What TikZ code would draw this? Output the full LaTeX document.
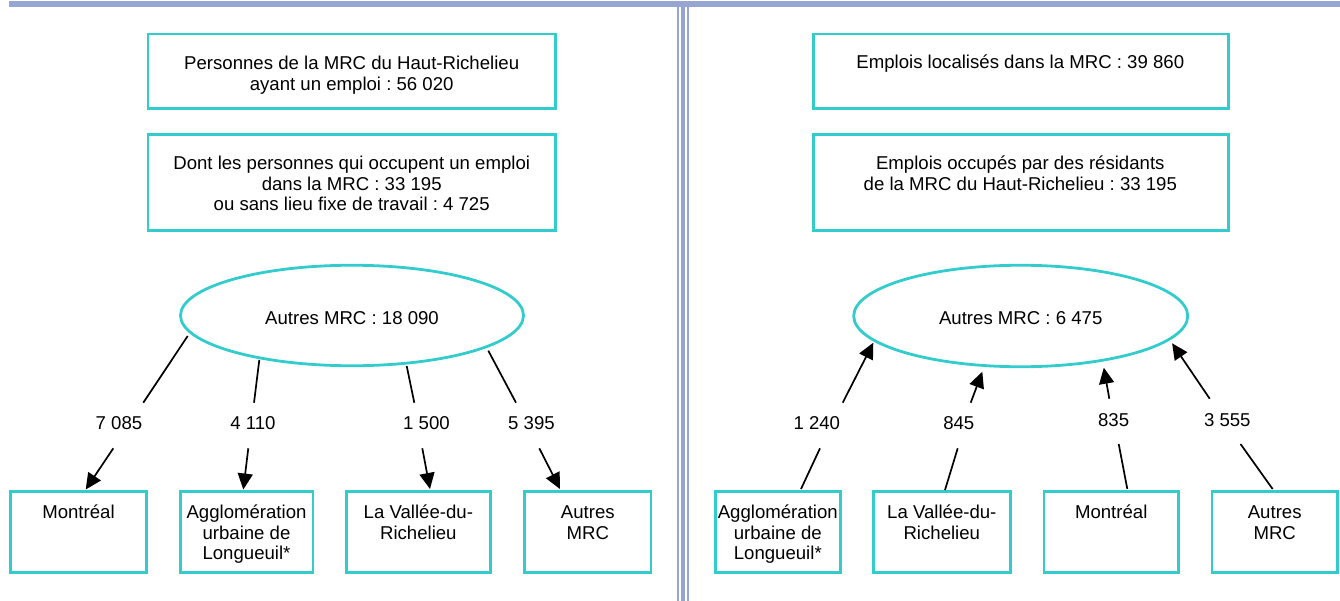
\documentclass[tikz,border=0pt]{standalone}
\usepackage{fontspec}
\setmainfont{Liberation Sans}
\usetikzlibrary{arrows.meta,shapes.geometric}
\definecolor{turq}{RGB}{51,204,204}
\definecolor{lav}{RGB}{150,165,210}
\frenchspacing
\begin{document}
\begin{tikzpicture}[x=1bp,y=-1bp,
  box/.style={draw=turq, line width=2.8bp, inner sep=0pt},
  ell/.style={ellipse, draw=turq, line width=2.8bp, inner sep=0pt,
    font=\fontsize{18.6bp}{20.7bp}\selectfont, text height=20bp, text depth=2.2bp},
  txt/.style={font=\fontsize{18.6bp}{20.7bp}\selectfont, align=center, inner sep=0pt},
  conn/.style={line width=1.7bp, draw=black},
  arr/.style={conn, -{Triangle[length=16bp,width=15bp]}}]
\useasboundingbox (0,0) rectangle (1340,601);
% frame bars
\fill[lav] (9,0.7) rectangle (1340,6.7);
\fill[lav] (676.7,6.7) rectangle (679,601);
\fill[lav] (681,6.7) rectangle (685,601);
\fill[lav] (686.7,6.7) rectangle (689,601);

% ===== left side =====
\node[box, minimum width=407.3bp, minimum height=74.6bp] (L1) at (351.7,71.35) {};
\node[txt, anchor=north] (L1t) at (351.7,54.8) {\strut Personnes de la MRC du Haut-Richelieu\\\strut ayant un emploi : 56 020};
\node[box, minimum width=407.3bp, minimum height=96.3bp] (L2) at (351.7,182.5) {};
\node[txt, anchor=north] (L2t) at (351.7,154.8) {\strut Dont les personnes qui occupent un emploi\\\strut dans la MRC : 33 195\\\strut ou sans lieu fixe de travail : 4 725};
\node[ell, minimum width=343bp, minimum height=100.5bp] (LE) at (352,315.5) {Autres MRC : 18 090};

\node[box, minimum width=136bp, minimum height=81bp] (LB1) at (78.35,531.85) {};
\node[txt, anchor=north] (LB1t) at (78.5,503.8) {\strut Montréal};
\node[box, minimum width=132.6bp, minimum height=81bp] (LB2) at (246.65,531.85) {};
\node[txt, anchor=north] (LB2t) at (246.5,503.8) {\strut Agglomération\\\strut urbaine de\\\strut Longueuil*};
\node[box, minimum width=144bp, minimum height=81bp] (LB3) at (418.35,531.85) {};
\node[txt, anchor=north] (LB3t) at (418.35,503.8) {\strut La Vallée-du-\\\strut Richelieu};
\node[box, minimum width=126.3bp, minimum height=81bp] (LB4) at (587.8,531.85) {};
\node[txt, anchor=north] (LB4t) at (587.8,503.8) {\strut Autres\\\strut MRC};

\node[txt] (Ln1) at (119,425.5) {\strut 7 085};
\node[txt] (Ln2) at (253,425.5) {\strut 4 110};
\node[txt] (Ln3) at (426.5,425.5) {\strut 1 500};
\node[txt] (Ln4) at (531.5,425.5) {\strut 5 395};

\coordinate (la1) at (187.7,336);   \coordinate (lb1) at (143.3,402.7);
\coordinate (lc1) at (113.3,448.3); \coordinate (ld1) at (85.7,489.5);
\coordinate (la2) at (259.3,360);   \coordinate (lb2) at (254,402.7);
\coordinate (lc2) at (248.3,448.3); \coordinate (ld2) at (243.3,489.5);
\coordinate (la3) at (406.7,366);   \coordinate (lb3) at (414.3,402.7);
\coordinate (lc3) at (422.3,448.3); \coordinate (ld3) at (430,489);
\coordinate (la4) at (488.3,350.7); \coordinate (lb4) at (516,402.7);
\coordinate (lc4) at (539.3,448.3); \coordinate (ld4) at (560,489);
\foreach \i in {1,2,3,4}{
  \draw[conn] (la\i) -- (lb\i);
  \draw[arr] (lc\i) -- (ld\i);
}

% ===== right side =====
\node[box, minimum width=415.5bp, minimum height=74.6bp] (R1) at (1020.85,71.35) {};
\node[txt, anchor=north] (R1t) at (1020.3,53.8) {\strut Emplois localisés dans la MRC : 39 860};
\node[box, minimum width=415.5bp, minimum height=96.3bp] (R2) at (1020.85,182.5) {};
\node[txt, anchor=north] (R2t) at (1020.3,154.8) {\strut Emplois occupés par des résidants\\\strut de la MRC du Haut-Richelieu : 33 195};
\node[ell, minimum width=334bp, minimum height=101.5bp] (RE) at (1020.7,316) {Autres MRC : 6 475};

\node[box, minimum width=125bp, minimum height=81bp] (RB1) at (777.85,531.85) {};
\node[txt, anchor=north] (RB1t) at (777.8,503.8) {\strut Agglomération\\\strut urbaine de\\\strut Longueuil*};
\node[box, minimum width=137.4bp, minimum height=81bp] (RB2) at (941.8,531.85) {};
\node[txt, anchor=north] (RB2t) at (941.8,503.8) {\strut La Vallée-du-\\\strut Richelieu};
\node[box, minimum width=134.4bp, minimum height=81bp] (RB3) at (1111.2,531.85) {};
\node[txt, anchor=north] (RB3t) at (1111.2,503.8) {\strut Montréal};
\node[box, minimum width=125.4bp, minimum height=81bp] (RB4) at (1274.7,531.85) {};
\node[txt, anchor=north] (RB4t) at (1274.7,503.8) {\strut Autres\\\strut MRC};

\node[txt] (Rn1) at (816.8,425.8) {\strut 1 240};
\node[txt] (Rn2) at (958.8,425.8) {\strut 845};
\node[txt] (Rn3) at (1113.6,422.5) {\strut 835};
\node[txt] (Rn4) at (1227.3,422.5) {\strut 3 555};

\coordinate (ra1) at (801,489);     \coordinate (rb1) at (820,448.3);
\coordinate (rc1) at (842.7,402.7); \coordinate (rd1) at (873.3,342.7);
\coordinate (ra2) at (945,490);     \coordinate (rb2) at (957.7,448.3);
\coordinate (rc2) at (970.7,402.7); \coordinate (rd2) at (982.3,371.7);
\coordinate (ra3) at (1127.3,489);  \coordinate (rb3) at (1118.7,444);
\coordinate (rc3) at (1109.3,398.7);\coordinate (rd3) at (1103.8,367.7);
\coordinate (ra4) at (1272.6,489);  \coordinate (rb4) at (1240.5,444);
\coordinate (rc4) at (1209.7,398.7);\coordinate (rd4) at (1172.1,343.3);
\foreach \i in {1,2,3,4}{
  \draw[conn] (ra\i) -- (rb\i);
  \draw[arr] (rc\i) -- (rd\i);
}
\end{tikzpicture}
\end{document}
